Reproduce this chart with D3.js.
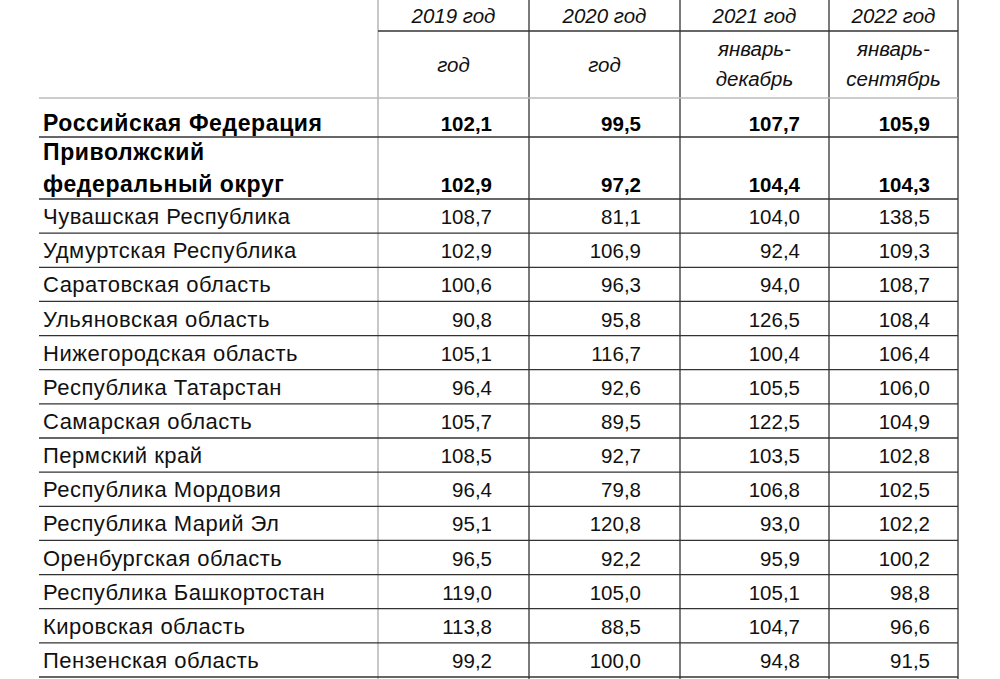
<!DOCTYPE html>
<html><head><meta charset="utf-8">
<script src="https://cdn.jsdelivr.net/npm/d3@7"></script>
<style>body{margin:0;background:#fff}svg{display:block}</style>
</head><body><div id="table"></div>
<script>
const years = ['2019 год', '2020 год', '2021 год', '2022 год'];
const periods = [['год'], ['год'], ['январь-', 'декабрь'], ['январь-', 'сентябрь']];
const regions = ['Чувашская Республика', 'Удмуртская Республика', 'Саратовская область',
  'Ульяновская область', 'Нижегородская область', 'Республика Татарстан', 'Самарская область',
  'Пермский край', 'Республика Мордовия', 'Республика Марий Эл', 'Оренбургская область',
  'Республика Башкортостан', 'Кировская область', 'Пензенская область'];
const v2019 = [108.7, 102.9, 100.6, 90.8, 105.1, 96.4, 105.7, 108.5, 96.4, 95.1, 96.5, 119.0, 113.8, 99.2];
const v2020 = [81.1, 106.9, 96.3, 95.8, 116.7, 92.6, 89.5, 92.7, 79.8, 120.8, 92.2, 105.0, 88.5, 100.0];
const v2021 = [104.0, 92.4, 94.0, 126.5, 100.4, 105.5, 122.5, 103.5, 106.8, 93.0, 95.9, 105.1, 104.7, 94.8];
const v2022 = [138.5, 109.3, 108.7, 108.4, 106.4, 106.0, 104.9, 102.8, 102.5, 102.2, 100.2, 98.8, 96.6, 91.5];
const rfValues = [102.1, 99.5, 107.7, 105.9];
const pfoValues = [102.9, 97.2, 104.4, 104.3];

const fmt = v => d3.format('.1f')(v).replace('.', ',');
const W = 1000, H = 679;
const svg = d3.select('#table').append('svg').attr('width', W).attr('height', H)
  .style('font-family', '"Liberation Sans", Arial, sans-serif');

// column edges
const colEdges = [378, 529, 680, 829, 958];
const numRight = [492, 641, 800, 930];
const left = 39;
// data rows
const y = d3.scaleLinear().domain([0, regions.length]).range([199, 677]);

const grid = svg.append('g');
grid.selectAll('line.v').data(colEdges).join('line')
  .attr('x1', d => d).attr('x2', d => d).attr('y1', 0).attr('y2', H)
  .attr('stroke', (d, i) => i === 0 ? '#aaa' : '#333').attr('stroke-width', 1.3);
const hlines = [
  { y: 31, x1: 378, c: '#333' },
  { y: 98, x1: left, c: '#bbb' },
  { y: 137, x1: left, c: '#333' },
  { y: 199, x1: left, c: '#333' }
].concat(d3.range(1, regions.length + 1).map(i => ({ y: y(i), x1: left, c: '#333' })));
grid.selectAll('line.h').data(hlines).join('line')
  .attr('x1', d => d.x1).attr('x2', colEdges[4]).attr('y1', d => d.y).attr('y2', d => d.y)
  .attr('stroke', d => d.c).attr('stroke-width', 1.3);

// header
const centers = d3.range(4).map(i => (colEdges[i] + colEdges[i + 1]) / 2);
const hdr = svg.append('g').style('font-style', 'italic').attr('font-size', 20.5).attr('fill', '#111');
hdr.selectAll('text.yr').data(years).join('text')
  .attr('x', (d, i) => centers[i]).attr('y', 23).attr('text-anchor', 'middle').text(d => d);
periods.forEach((p, i) => {
  p.forEach((t, j) => {
    hdr.append('text').attr('x', centers[i]).attr('text-anchor', 'middle')
      .attr('y', p.length === 1 ? 72 : 56 + j * 30).text(t);
  });
});

// bold rows
const bold = svg.append('g').attr('font-weight', 'bold').attr('fill', '#000');
const boldNames = bold.append('g').attr('font-size', 23).attr('letter-spacing', 0.6);
boldNames.append('text').attr('x', 43).attr('y', 131).text('Российская Федерация');
boldNames.append('text').attr('x', 43).attr('y', 160).text('Приволжский');
boldNames.append('text').attr('x', 43).attr('y', 192).text('федеральный округ');
const boldNums = bold.append('g').attr('font-size', 20.5);
boldNums.selectAll('text.rf').data(rfValues).join('text')
  .attr('x', (d, i) => numRight[i]).attr('y', 131).attr('text-anchor', 'end').text(fmt);
boldNums.selectAll('text.pfo').data(pfoValues).join('text')
  .attr('x', (d, i) => numRight[i]).attr('y', 192).attr('text-anchor', 'end').text(fmt);

// data rows
const body = svg.append('g').attr('fill', '#111');
body.append('g').attr('font-size', 22).attr('letter-spacing', 0.5)
  .selectAll('text').data(regions).join('text')
  .attr('x', 43).attr('y', (d, i) => y(i + 0.5) + 8).text(d => d);
const nums = body.append('g').attr('font-size', 20.5);
[v2019, v2020, v2021, v2022].forEach((vals, c) => {
  nums.selectAll('text.c' + c).data(vals).join('text').attr('class', 'c' + c)
    .attr('x', numRight[c]).attr('y', (d, i) => y(i + 0.5) + 8)
    .attr('text-anchor', 'end').text(fmt);
});
</script></body></html>
